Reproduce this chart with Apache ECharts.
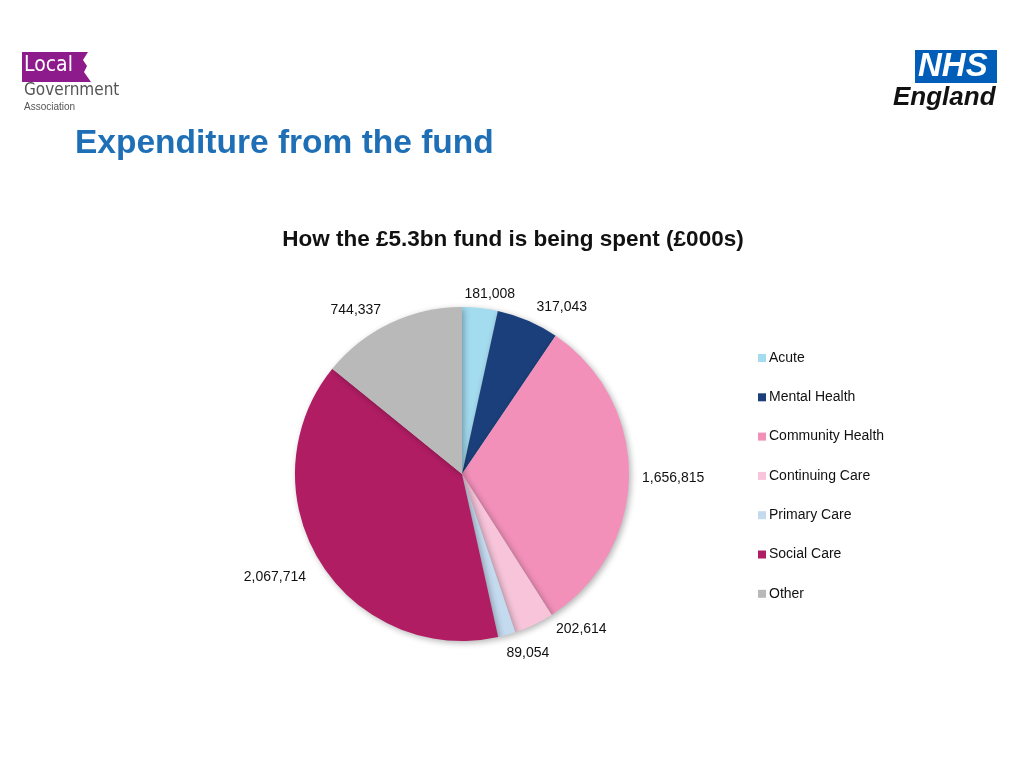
<!DOCTYPE html>
<html><head><meta charset="utf-8">
<script src="https://cdn.jsdelivr.net/npm/echarts@6/dist/echarts.min.js"></script>
<style>html,body{margin:0;padding:0;background:#fff}#c{width:1024px;height:768px}</style>
</head><body><div id="c"></div>
<script>
const categories = ['Acute','Mental Health','Community Health','Continuing Care','Primary Care','Social Care','Other'];
const values = [181008, 317043, 1656815, 202614, 89054, 2067714, 744337];
const colors = ['#a3dbef','#1b3f7a','#f290ba','#f7c4da','#c4daef','#b01d63','#b9b9b9'];
// label nudges (style only)
const labelShift = [[-22,0],[-2,-1],[-6,2],[11,-8],[-9,5],[3,8],[2,0]];

const chart = echarts.init(document.getElementById('c'));
const fmt = v => v.toLocaleString('en-GB');
chart.setOption({
  animation: false,
  backgroundColor: '#fff',
  title: {
    text: 'How the £5.3bn fund is being spent (£000s)',
    left: 508, top: 223, textAlign: 'center',
    textStyle: {fontFamily: 'Liberation Sans, Arial', fontWeight: 'bold', fontSize: 22.5, color: '#111'}
  },
  legend: {
    orient: 'vertical', left: 753, top: 346, itemGap: 25.3,
    itemWidth: 8, itemHeight: 8, icon: 'rect',
    textStyle: {fontFamily: 'Liberation Sans, Arial', fontSize: 14, color: '#111', padding: [0,0,0,-2]},
    data: categories
  },
  graphic: [
    {type: 'text', left: 75, top: 127, style: {text: 'Expenditure from the fund', fill: '#1f6fb6', font: 'bold 33.5px "Liberation Sans", Arial'}},
    {type: 'rect', shape: {x: 22, y: 52, width: 52, height: 30}, style: {fill: '#8e1b8c'}},
    {type: 'polygon', shape: {points: [[74,52],[88,52],[83,60],[87,66],[84,72],[91,82],[74,82]]}, style: {fill: '#8e1b8c'}},
    {type: 'text', left: 24, top: 55, style: {text: 'Local', fill: '#fff', font: '21px "Liberation Sans Narrow", "DejaVu Sans Condensed", Arial'}},
    {type: 'text', left: 24, top: 82, style: {text: 'Government', fill: '#555', font: '17px "Liberation Sans Narrow", "DejaVu Sans Condensed", Arial'}},
    {type: 'text', left: 24, top: 102, style: {text: 'Association', fill: '#555', font: '10px "Liberation Sans Narrow", Arial'}},
    {type: 'rect', shape: {x: 915, y: 50, width: 82, height: 33}, style: {fill: '#005eb8'}},
    {type: 'text', left: 918, top: 50, style: {text: 'NHS', fill: '#fff', font: 'italic bold 33px "Liberation Sans", Arial'}},
    {type: 'text', left: 893, top: 85, style: {text: 'England', fill: '#111', font: 'italic bold 26px "Liberation Sans", Arial'}}
  ],
  series: [{
    type: 'pie',
    center: [462, 474],
    radius: [0, 167],
    startAngle: 90,
    clockwise: true,
    avoidLabelOverlap: false,
    data: categories.map((c, i) => ({name: c, value: values[i], itemStyle: {color: colors[i]}})),
    itemStyle: {shadowBlur: 6, shadowColor: 'rgba(0,0,0,0.3)', shadowOffsetX: 2, shadowOffsetY: 2},
    label: {
      show: true, position: 'outside',
      formatter: p => fmt(p.value),
      fontFamily: 'Liberation Sans, Arial', fontSize: 14, color: '#111'
    },
    labelLine: {show: false, length: 14, length2: 0},
    labelLayout: p => ({hideOverlap: false, dx: labelShift[p.dataIndex][0], dy: labelShift[p.dataIndex][1]})
  }]
});
</script></body></html>
